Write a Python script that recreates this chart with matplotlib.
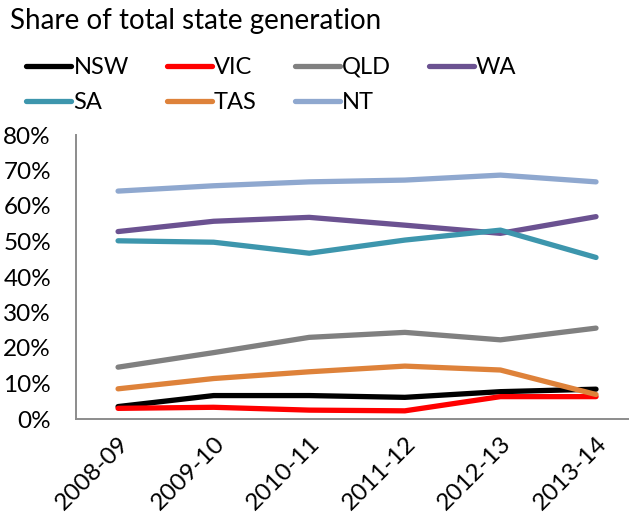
import matplotlib.pyplot as plt
from matplotlib.ticker import FuncFormatter

plt.rcParams['font.family'] = ['Lato', 'DejaVu Sans']

years = ['2008-09', '2009-10', '2010-11', '2011-12', '2012-13', '2013-14']

nsw = [3.5, 6.6, 6.6, 6.1, 7.7, 8.4]
vic = [3.0, 3.3, 2.5, 2.3, 6.3, 6.3]
qld = [14.6, 18.7, 23.0, 24.4, 22.3, 25.6]
wa = [52.8, 55.7, 56.8, 54.6, 52.3, 57.0]
sa = [50.2, 49.8, 46.7, 50.4, 53.2, 45.5]
tas = [8.5, 11.4, 13.3, 14.9, 13.8, 6.9]
nt = [64.2, 65.7, 66.8, 67.3, 68.7, 66.8]

series = [
    ('NSW', nsw, '#000000'),
    ('VIC', vic, '#ff0000'),
    ('QLD', qld, '#808080'),
    ('WA', wa, '#6b5291'),
    ('SA', sa, '#3d96ad'),
    ('TAS', tas, '#de823a'),
    ('NT', nt, '#8fa8cf'),
]

fig = plt.figure(figsize=(6.29, 5.21), dpi=100)
ax = fig.add_axes([76 / 629, 1 - 419 / 521, (629 - 76) / 629, (419 - 135) / 521])

x = range(len(years))
lines = {}
for name, vals, col in series:
    lines[name], = ax.plot(x, vals, color=col, lw=3.8, label=name,
                           solid_capstyle='round')

ax.set_ylim(0, 80)
ax.set_xlim(-0.44, 5.345)
ax.set_yticks(range(0, 81, 10))
ax.yaxis.set_major_formatter(FuncFormatter(lambda v, p: f'{v:.0f}%'))
ax.set_xticks(list(x))
ax.set_xticklabels(years, rotation=45, ha='right', rotation_mode='anchor')
ax.tick_params(axis='both', length=0, labelsize=17.5)
ax.tick_params(axis='y', pad=18)
ax.tick_params(axis='x', pad=10)

for s in ['top', 'right']:
    ax.spines[s].set_visible(False)
for s in ['left', 'bottom']:
    ax.spines[s].set_color('#8c8c8c')
    ax.spines[s].set_linewidth(1.4)

fig.text(0.016, 0.985, 'Share of total state generation', fontsize=20,
         ha='left', va='top')

# legend fills column by column, so order entries to read across rows
order = ['NSW', 'SA', 'VIC', 'TAS', 'QLD', 'NT', 'WA']
fig.legend([lines[n] for n in order], order,
           loc='upper left', bbox_to_anchor=(0.042, 0.891), ncol=4,
           frameon=False, fontsize=17, handlelength=1.9, handletextpad=0.1,
           columnspacing=1.6, labelspacing=0.6, borderaxespad=0,
           borderpad=0)

fig.savefig('out.png', dpi=100)
